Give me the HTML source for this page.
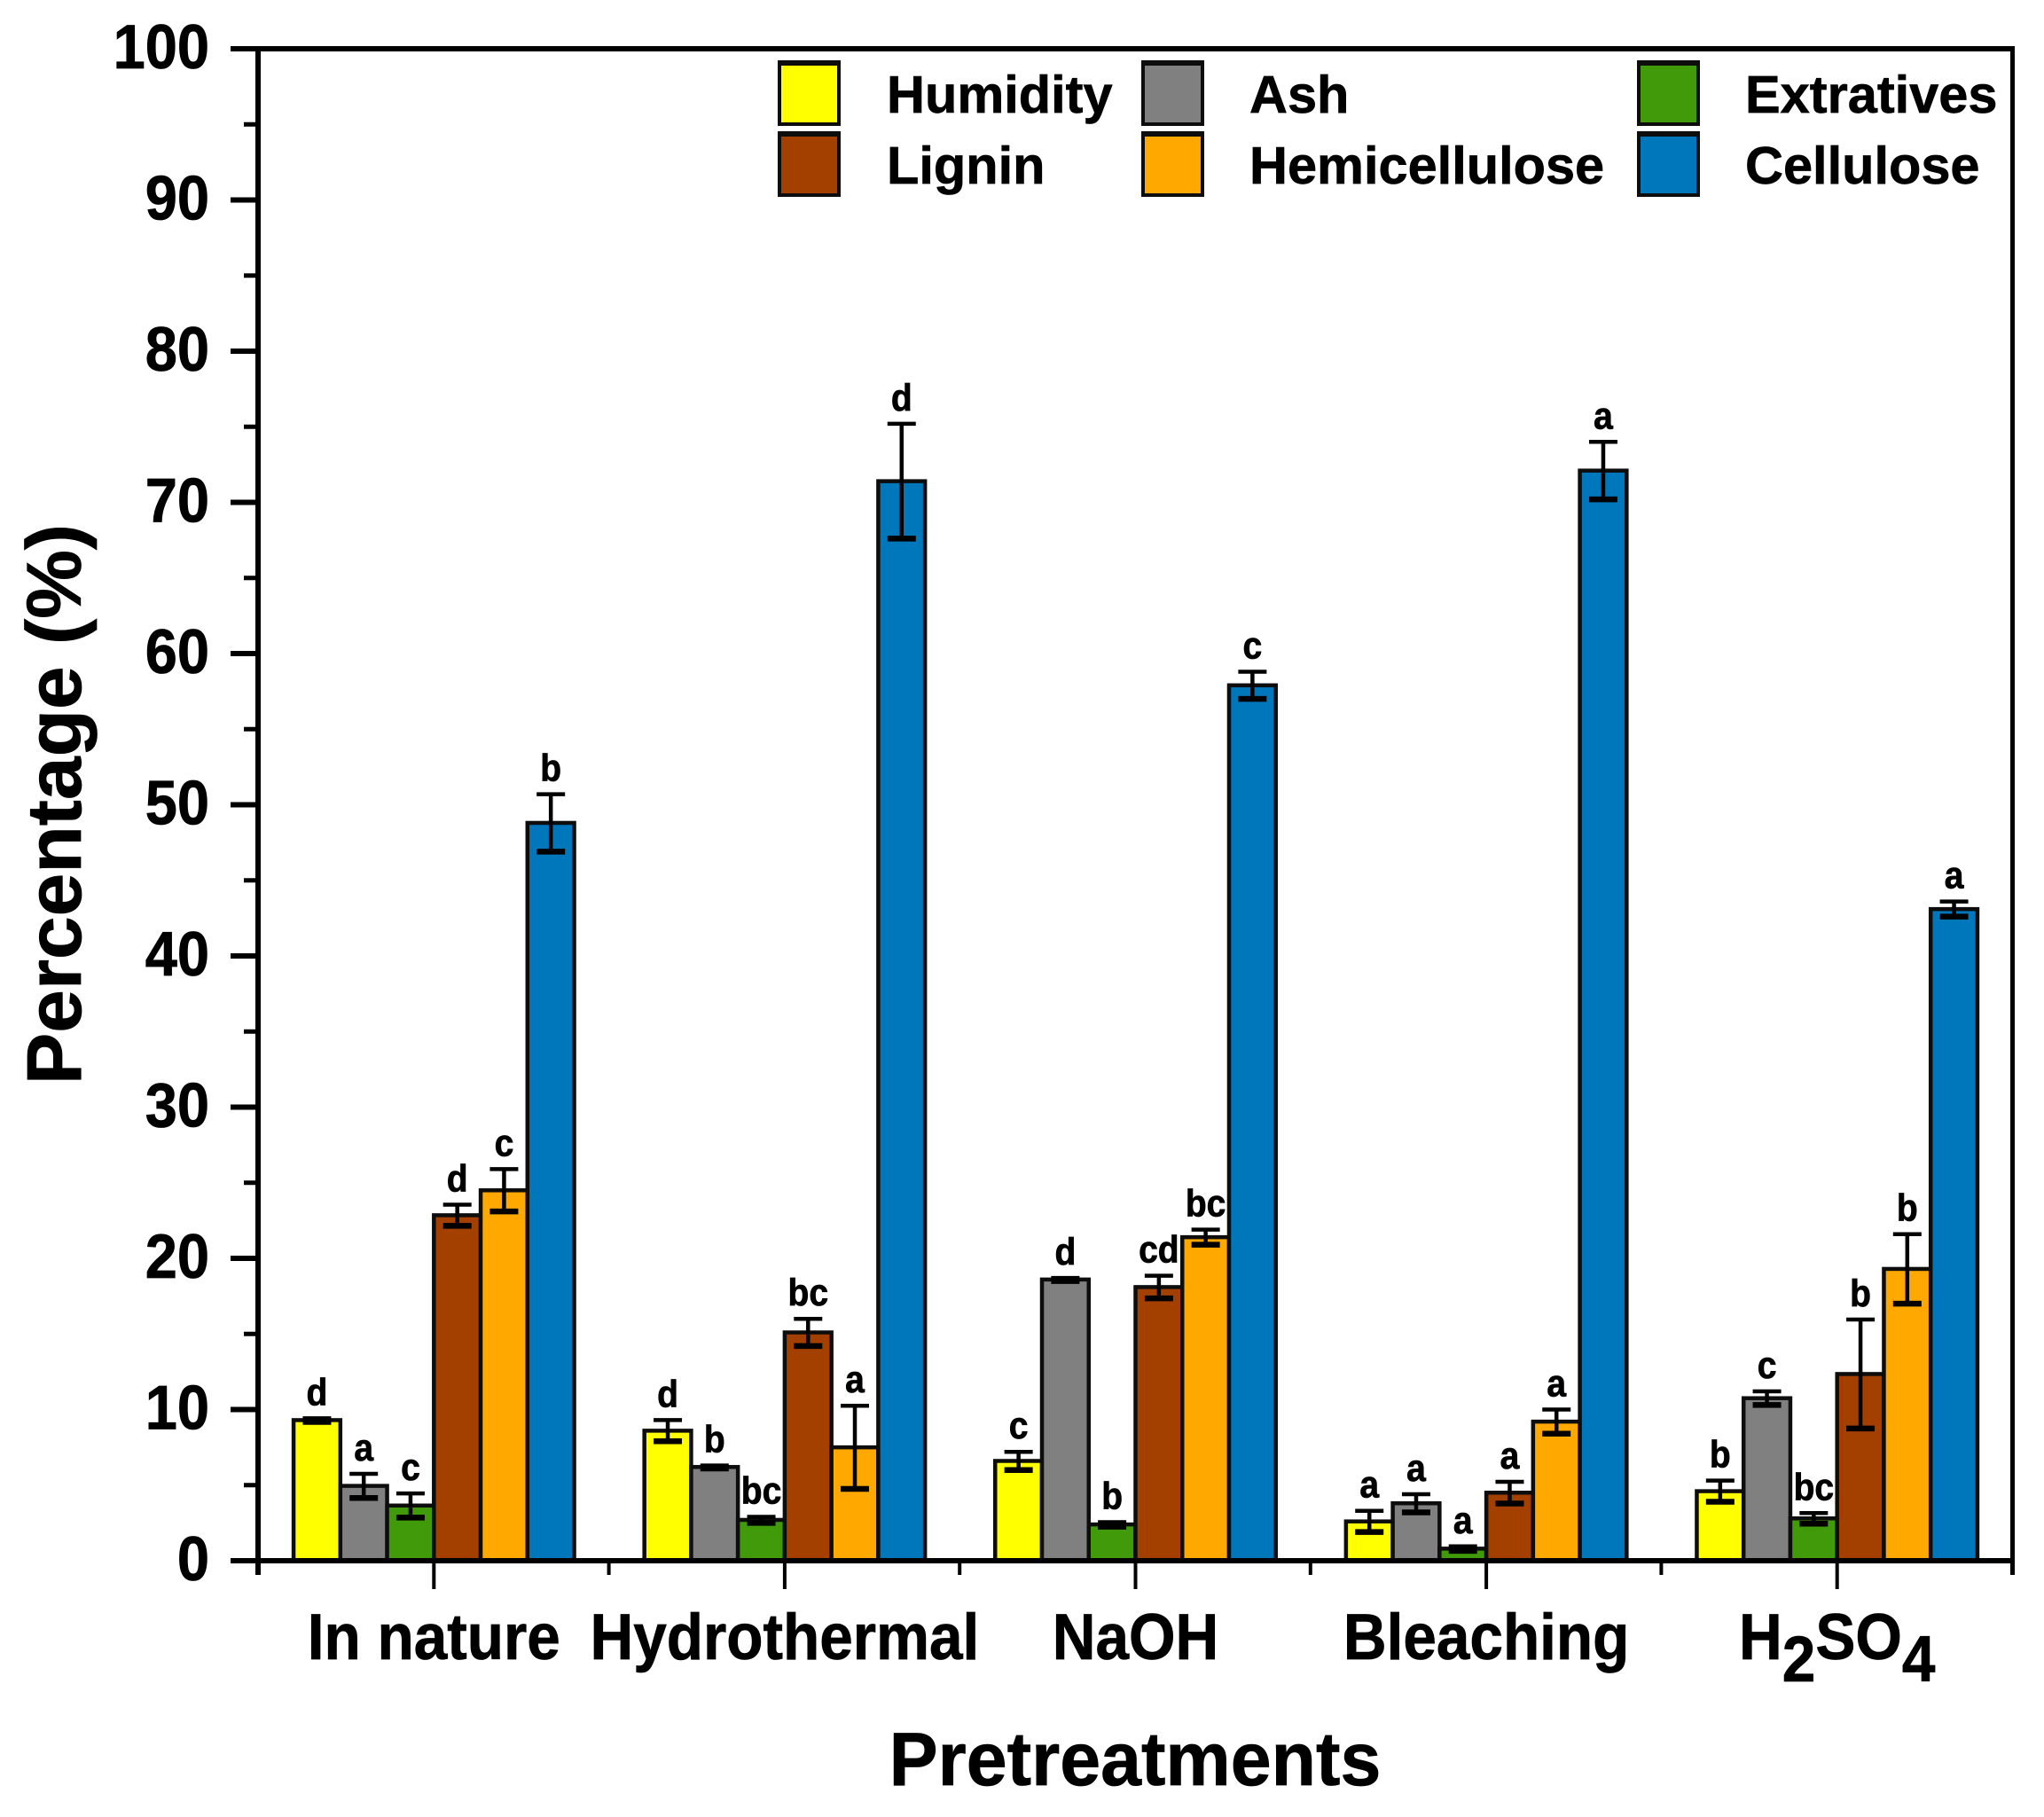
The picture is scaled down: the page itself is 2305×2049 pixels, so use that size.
<!DOCTYPE html>
<html lang="en">
<head>
<meta charset="utf-8">
<title>Composition by pretreatment</title>
<style>
  html, body { margin: 0; padding: 0; background: #fff; }
  #chart { display: block; width: 2305px; height: 2049px; background: #fff; }
  text { font-family: "Liberation Sans", Arial, sans-serif; font-weight: bold; fill: #000; stroke: #000; stroke-width: 0.7px; }
</style>
</head>
<body>
<svg id="chart" xmlns="http://www.w3.org/2000/svg" width="2305" height="2049" viewBox="0 0 2305 2049">
  <text transform="translate(91,907) rotate(-90)" text-anchor="middle" font-size="87.5">Percentage (%)</text>
  <text transform="translate(1280,2013) scale(1,1.04)" text-anchor="middle" font-size="82.5">Pretreatments</text>
</svg>
<script>
// ---- chart data ----
const categories = ['In nature', 'Hydrothermal', 'NaOH', 'Bleaching', 'H2SO4'];
const seriesNames = ['Humidity', 'Ash', 'Extratives', 'Lignin', 'Hemicellulose', 'Cellulose'];
const seriesColors = ['#ffff00', '#808080', '#409a0a', '#a34000', '#ffa800', '#0077bb'];

const humidity = [9.3, 8.6, 6.6, 2.6, 4.6];
const ash = [4.95, 6.2, 18.6, 3.8, 10.75];
const extratives = [3.65, 2.7, 2.4, 0.8, 2.8];
const lignin = [22.85, 15.1, 18.1, 4.5, 12.35];
const hemicellulose = [24.5, 7.5, 21.4, 9.2, 19.3];
const cellulose = [48.8, 71.4, 57.9, 72.1, 43.1];

const humidityErr = [0.12, 0.7, 0.6, 0.7, 0.7];
const ashErr = [0.8, 0.1, 0.1, 0.6, 0.45];
const extrativesErr = [0.8, 0.2, 0.15, 0.15, 0.35];
const ligninErr = [0.7, 0.9, 0.75, 0.72, 3.6];
const hemicelluloseErr = [1.4, 2.75, 0.5, 0.8, 2.3];
const celluloseErr = [1.9, 3.8, 0.9, 1.9, 0.5];

const humidityLetters = ['d', 'd', 'c', 'a', 'b'];
const ashLetters = ['a', 'b', 'd', 'a', 'c'];
const extrativesLetters = ['c', 'bc', 'b', 'a', 'bc'];
const ligninLetters = ['d', 'bc', 'cd', 'a', 'b'];
const hemicelluloseLetters = ['c', 'a', 'bc', 'a', 'b'];
const celluloseLetters = ['b', 'd', 'c', 'a', 'a'];

const yMajorTicks = [0, 10, 20, 30, 40, 50, 60, 70, 80, 90, 100];
const yMinorTicks = [5, 15, 25, 35, 45, 55, 65, 75, 85, 95];

const seriesValues = [humidity, ash, extratives, lignin, hemicellulose, cellulose];
const seriesErrors = [humidityErr, ashErr, extrativesErr, ligninErr, hemicelluloseErr, celluloseErr];
const seriesLetters = [humidityLetters, ashLetters, extrativesLetters, ligninLetters, hemicelluloseLetters, celluloseLetters];

// ---- axis functions ----
const plotLeft = 291, plotRight = 2269, plotTop = 55, plotBottom = 1760;
function yScale(v) { return plotBottom - (plotBottom - plotTop) * v / 100; }
const bandWidth = (plotRight - plotLeft) / categories.length;
function xCenter(i) { return plotLeft + 0.5 + bandWidth * (i + 0.5); }
const barWidth = bandWidth * 0.8 / seriesNames.length;
function barLeft(i, s) { return xCenter(i) - barWidth * seriesNames.length / 2 + s * barWidth; }

const NS = 'http://www.w3.org/2000/svg';
const svg = document.getElementById('chart');
function mk(tag, attrs, parent) {
  const el = document.createElementNS(NS, tag);
  for (const k in attrs) el.setAttribute(k, attrs[k]);
  (parent || svg).appendChild(el);
  return el;
}
function slug(s) { return s.toLowerCase().replace(/[^a-z0-9]+/g, '-'); }

// ---- bars ----
seriesNames.forEach(function (name, s) {
  seriesValues[s].forEach(function (v, i) {
    const bar = mk('rect', { x: barLeft(i, s), y: yScale(v), width: barWidth, height: plotBottom - yScale(v), fill: seriesColors[s], stroke: '#0d0d0d', 'stroke-width': 4.5 });
    
    
  });
});

// ---- error bars and significance letters ----
seriesNames.forEach(function (name, s) {
  seriesValues[s].forEach(function (v, i) {
    const e = seriesErrors[s][i];
    const cx = barLeft(i, s) + barWidth / 2;
    const hi = yScale(v + e), lo = yScale(v - e);
    const g = mk('g', { stroke: '#000' });
    
    
    mk('line', { x1: cx, x2: cx, y1: hi, y2: lo, 'stroke-width': 4.5 }, g);
    mk('line', { x1: cx - 16, x2: cx + 16, y1: hi, y2: hi, 'stroke-width': 4.5 }, g);
    mk('line', { x1: cx - 16, x2: cx + 16, y1: lo, y2: lo, 'stroke-width': 6.5 }, g);
    const t = mk('text', { transform: 'translate(' + cx + ',' + (hi - 15) + ') scale(1,1.09)', 'text-anchor': 'middle', 'font-size': 39 });
    t.textContent = seriesLetters[s][i];
    
    
  });
});

// ---- axes frame ----
const frameTop = mk('rect', { x: 260, y: 52, width: plotRight + 3 - 260, height: 6, fill: '#000' });


const frameLeft = mk('rect', { x: plotLeft - 3, y: 52, width: 6, height: plotBottom + 16 - 52, fill: '#000' });


const frameRight = mk('rect', { x: plotRight - 2, y: 52, width: 5, height: plotBottom + 16 - 52, fill: '#000' });


const frameBottom = mk('rect', { x: 260, y: plotBottom - 3, width: plotRight + 3 - 260, height: 6, fill: '#000' });



// ---- y ticks ----
yMajorTicks.forEach(function (v) {
  const tick = mk('rect', { x: 260, y: yScale(v) - 3, width: plotLeft - 260, height: 6, fill: '#000' });
  
  
  const label = mk('text', { transform: 'translate(236,' + (yScale(v) + 22) + ') scale(1,1.09)', 'text-anchor': 'end', 'font-size': 65 });
  label.textContent = String(v);
  
  
});
yMinorTicks.forEach(function (v) {
  const tick = mk('rect', { x: 275, y: yScale(v) - 2.5, width: plotLeft - 275, height: 5, fill: '#000' });
  
  
});

// ---- x ticks ----
categories.forEach(function (name, i) {
  const cx = xCenter(i);
  const tick = mk('rect', { x: cx - 2, y: plotBottom, width: 4, height: 32, fill: '#000' });
  
  
  if (i > 0) {
    const minor = mk('rect', { x: plotLeft + bandWidth * i - 2, y: plotBottom, width: 4, height: 16, fill: '#000' });
    
    
  }
  const label = mk('text', { transform: 'translate(' + cx + ',1871) scale(1,1.09)', 'text-anchor': 'middle', 'font-size': 67.5 });
  
  
  const parts = name.split(/(\d)/);
  if (parts.length === 1) {
    label.textContent = name;
  } else {
    let prevSub = false;
    parts.forEach(function (part) {
      if (!part) return;
      const isSub = /\d/.test(part);
      const span = mk('tspan', { dy: isSub ? 23 : (prevSub ? -23 : 0) }, label);
      span.textContent = part;
      prevSub = isSub;
    });
  }
});

// ---- legend ----
const legendSwatchX = [879, 1289, 1848];
const legendTextX = [1000, 1409, 1968];
const legendRowTop = [71, 151];
const legendBaseline = [127, 207];
seriesNames.forEach(function (name, s) {
  const col = s % 3;
  const row = Math.floor(s / 3);
  const g = mk('g', {});
  
  
  const sw = mk('rect', { x: legendSwatchX[col], y: legendRowTop[row], width: 67, height: 69, fill: seriesColors[s], stroke: '#0d0d0d', 'stroke-width': 4 }, g);
  
  
  const cap = mk('rect', { x: legendSwatchX[col] - 2, y: legendRowTop[row] - 3, width: 71, height: 6, fill: '#0d0d0d' }, g);
  
  
  const t = mk('text', { x: legendTextX[col], y: legendBaseline[row], 'font-size': 59.5 }, g);
  t.textContent = name;
  
  
});
</script>
</body>
</html>
